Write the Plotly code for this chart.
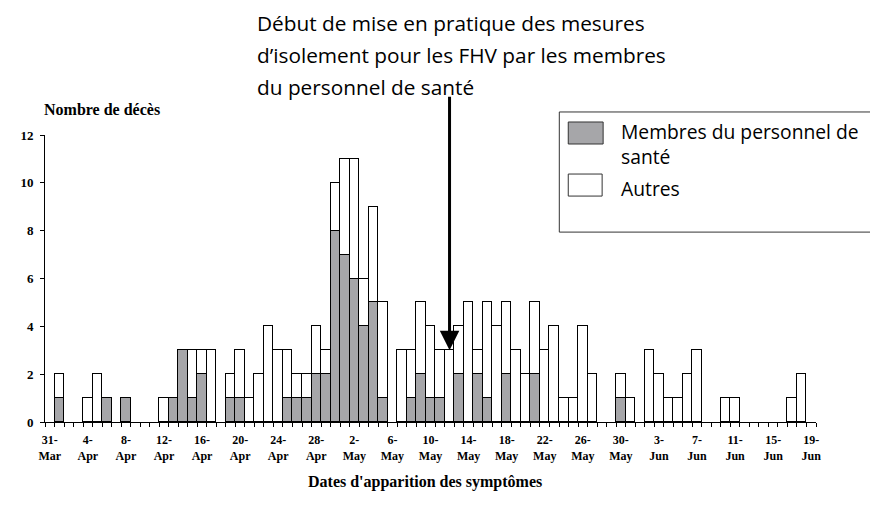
import pandas as pd
import plotly.graph_objects as go

# Categories: one per day, 31-Mar to 19-Jun
days = pd.date_range("1995-03-31", "1995-06-19", freq="D")
categories = [d.strftime("%d-%b") for d in days]

# Deaths among health-care workers (grey) and others (white), per day
hcw = [0, 1, 0, 0, 0, 0, 1, 0, 1, 0, 0, 0, 0, 1, 3, 1, 2, 0, 0, 1,
       1, 0, 0, 0, 0, 1, 1, 1, 2, 2, 8, 7, 6, 4, 5, 1, 0, 0, 1, 2,
       1, 1, 0, 2, 0, 2, 1, 0, 2, 0, 0, 2, 0, 0, 0, 0, 0, 0, 0, 0,
       1, 0, 0, 0, 0, 0, 0, 0, 0, 0, 0, 0, 0, 0, 0, 0, 0, 0, 0, 0, 0]
autres = [0, 1, 0, 0, 1, 2, 0, 0, 0, 0, 0, 0, 1, 0, 0, 2, 1, 3, 0, 1,
          2, 1, 2, 4, 3, 2, 1, 1, 2, 1, 2, 4, 5, 2, 4, 4, 0, 3, 2, 3,
          3, 2, 3, 2, 5, 1, 4, 4, 3, 3, 2, 3, 3, 4, 1, 1, 4, 2, 0, 0,
          1, 1, 0, 3, 2, 1, 1, 2, 3, 0, 0, 1, 1, 0, 0, 0, 0, 0, 1, 2, 0]

label_every = 4
tick_labels = ["31-<br>Mar", "4-<br>Apr", "8-<br>Apr", "12-<br>Apr", "16-<br>Apr",
               "20-<br>Apr", "24-<br>Apr", "28-<br>Apr", "2-<br>May", "6-<br>May",
               "10-<br>May", "14-<br>May", "18-<br>May", "22-<br>May", "26-<br>May",
               "30-<br>May", "3-<br>Jun", "7-<br>Jun", "11-<br>Jun", "15-<br>Jun",
               "19-<br>Jun"]

arrow_category = "12-May"
arrow_value = 3

series_names = ["Membres du personnel de<br>santé", "Autres"]
grey = "#a6a6a9"

ticktext = []
for i, c in enumerate(categories):
    ticktext.append(tick_labels[i // label_every] if i % label_every == 0 else "")

def nz(vals):
    return [v if v else None for v in vals]

fig = go.Figure()
fig.add_trace(go.Bar(x=categories, y=nz(hcw), name=series_names[0],
                     marker=dict(color=grey, line=dict(color="#000000", width=1)),
                     showlegend=False))
fig.add_trace(go.Bar(x=categories, y=nz(autres), name=series_names[1],
                     marker=dict(color="#ffffff", line=dict(color="#000000", width=1)),
                     showlegend=False))

serif = "Liberation Serif, Times New Roman, serif"
sans = "Open Sans, Lato, sans-serif"

# The page body has an 8px margin, so the figure is 8px smaller than the window
fig.update_layout(
    width=870, height=498,
    margin=dict(l=34, r=62, t=127, b=84),
    paper_bgcolor="white", plot_bgcolor="white",
    barmode="stack", bargap=0,
    showlegend=False,
    xaxis=dict(type="category", categoryorder="array", categoryarray=categories,
               tickmode="array", tickvals=categories, ticktext=ticktext,
               tickson="boundaries", ticks="outside", ticklen=4, tickcolor="#000",
               ticklabelstandoff=7,
               showline=True, linecolor="#000", linewidth=1, showgrid=False,
               range=[-0.5, len(categories) - 0.5], tickangle=0,
               tickfont=dict(family=serif, size=12, color="#000", weight="bold")),
    yaxis=dict(range=[0, 12], dtick=2, ticks="outside", ticklen=4, tickcolor="#000",
               ticklabelstandoff=4,
               showline=True, linecolor="#000", linewidth=1, showgrid=False,
               zeroline=False,
               tickfont=dict(family=serif, size=13, color="#000", weight="bold")),
)

# helpers: page pixel -> paper fraction of plot area (plot area spans 41.7..815.7, 135..421.7)
def px_x(p):
    return (p - 41.7) / 774
def px_y(p):
    return (421.7 - p) / 286.7

# Axis titles
fig.add_annotation(xref="paper", yref="paper", x=px_x(423), y=px_y(482), yanchor="middle",
                   text="<b>Dates d'apparition des symptômes</b>", showarrow=False,
                   font=dict(family=serif, size=16, color="#000"))
fig.add_annotation(xref="paper", yref="paper", x=px_x(39), y=px_y(110), xanchor="left",
                   yanchor="middle", text="<b>Nombre de décès</b>", showarrow=False,
                   font=dict(family=serif, size=16, color="#000"))

# Intervention text
note_lines = ["Début de mise en pratique des mesures",
              "d’isolement pour les FHV par les membres",
              "du personnel de santé"]
for i, line in enumerate(note_lines):
    fig.add_annotation(xref="paper", yref="paper", x=px_x(254),
                       y=px_y(23 + 32 * i), xanchor="left", yanchor="middle",
                       text=line, showarrow=False, borderpad=0,
                       font=dict(family=sans, size=20.8, color="#000"))

# Arrow
fig.add_annotation(x=arrow_category, y=arrow_value, xref="x", yref="y",
                   ax=0, ay=-255, text="", showarrow=True,
                   arrowhead=2, arrowsize=1.3, arrowwidth=3, arrowcolor="#000")

# Legend box drawn manually
fig.add_shape(type="rect", xref="paper", yref="paper",
              x0=px_x(558), x1=px_x(876), y0=px_y(232), y1=px_y(112),
              line=dict(color="#333", width=1), fillcolor="white")
fig.add_shape(type="rect", xref="paper", yref="paper",
              x0=px_x(567), x1=px_x(602), y0=px_y(144), y1=px_y(122),
              line=dict(color="#333", width=1), fillcolor=grey)
fig.add_shape(type="rect", xref="paper", yref="paper",
              x0=px_x(567), x1=px_x(601), y0=px_y(196), y1=px_y(174),
              line=dict(color="#333", width=1), fillcolor="white")
fig.add_annotation(xref="paper", yref="paper", x=px_x(619), y=px_y(144),
                   xanchor="left", yanchor="middle", align="left", text=series_names[0],
                   showarrow=False, borderpad=0,
                   font=dict(family=sans, size=19.3, color="#000"))
fig.add_annotation(xref="paper", yref="paper", x=px_x(619), y=px_y(188),
                   xanchor="left", yanchor="middle", text=series_names[1],
                   showarrow=False, borderpad=0,
                   font=dict(family=sans, size=19.3, color="#000"))

fig.write_html("out.html")
